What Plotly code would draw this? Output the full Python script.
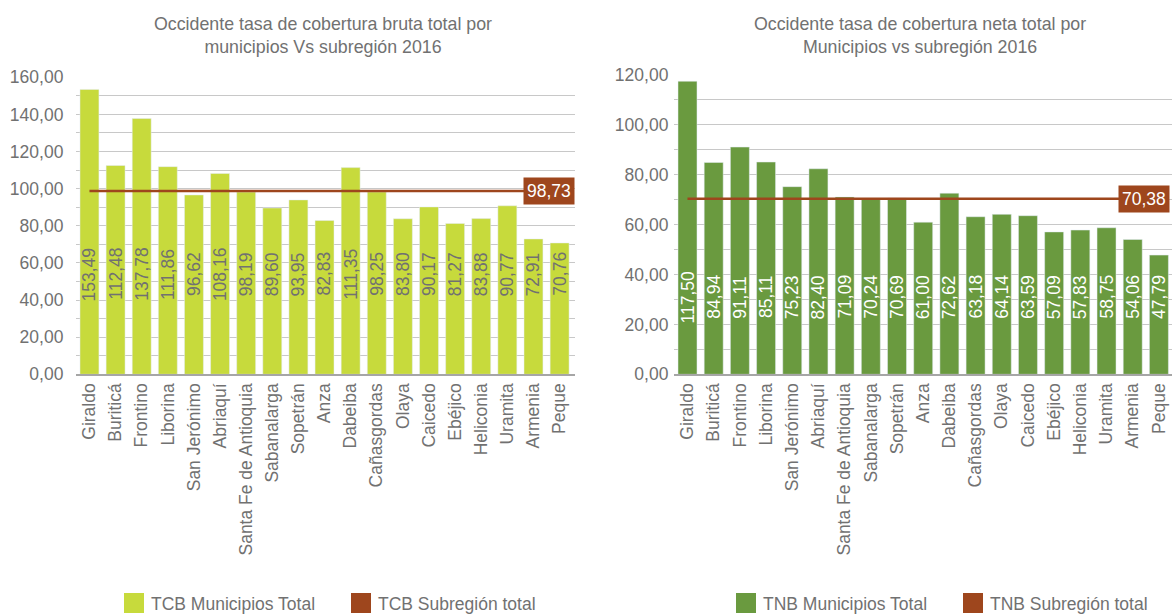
import plotly.graph_objects as go

# Municipios de la subregión Occidente
municipios = [
    "Giraldo", "Buriticá", "Frontino", "Liborina", "San Jerónimo", "Abriaquí",
    "Santa Fe de Antioquia", "Sabanalarga", "Sopetrán", "Anza", "Dabeiba",
    "Cañasgordas", "Olaya", "Caicedo", "Ebéjico", "Heliconia", "Uramita",
    "Armenia", "Peque",
]

# Tasa de cobertura bruta (TCB) 2016
tcb_municipios = [
    153.49, 112.48, 137.78, 111.86, 96.62, 108.16, 98.19, 89.60, 93.95, 82.83,
    111.35, 98.25, 83.80, 90.17, 81.27, 83.88, 90.77, 72.91, 70.76,
]
tcb_subregion = 98.73

# Tasa de cobertura neta (TNB) 2016
tnb_municipios = [
    117.50, 84.94, 91.11, 85.11, 75.23, 82.40, 71.09, 70.24, 70.69, 61.00,
    72.62, 63.18, 64.14, 63.59, 57.09, 57.83, 58.75, 54.06, 47.79,
]
tnb_subregion = 70.38

titulo_tcb = "Occidente tasa de cobertura bruta total por<br>municipios Vs subregión 2016"
titulo_tnb = "Occidente tasa de cobertura neta total por<br>Municipios vs subregión 2016"
leyenda_tcb = ["TCB Municipios Total", "TCB Subregión total"]
leyenda_tnb = ["TNB Municipios Total", "TNB Subregión total"]

W, H = 1173, 615
FONT = "Liberation Sans, Arial, sans-serif"
FS = 17.5
GRIS = "#717171"
GRID = "#C8C8C8"
VERDE_CLARO = "#C7DA3C"
VERDE = "#6A9A3F"
CAFE = "#9E461D"


def fx(px):
    return px / W


def fy(py):
    return 1 - py / H


def coma(v):
    return f"{v:.2f}".replace(".", ",")


fig = go.Figure()

paneles = [
    dict(x="x", y="y", valores=tcb_municipios, total=tcb_subregion, color=VERDE_CLARO,
         color_texto=GRIS, nivel_texto=54, rango=160, titulo=titulo_tcb,
         leyenda=leyenda_tcb, dom_x=(76.4, 574.6), dom_y=(77.3, 374.3),
         ley_x=(124, 351), xshift=-11),
    dict(x="x2", y="y2", valores=tnb_municipios, total=tnb_subregion, color=VERDE,
         color_texto="#FFFFFF", nivel_texto=31, rango=120, titulo=titulo_tnb,
         leyenda=leyenda_tnb, dom_x=(674.4, 1172.0), dom_y=(75.0, 374.3),
         ley_x=(736, 963), xshift=-15),
]

annotations = []
shapes = []

for i, p in enumerate(paneles):
    fig.add_trace(go.Bar(
        x=municipios, y=p["valores"], marker_color=p["color"],
        xaxis=p["x"], yaxis=p["y"], showlegend=False, hoverinfo="x+y",
    ))
    fig.add_trace(go.Scatter(
        x=municipios, y=[p["total"]] * len(municipios), mode="lines",
        line=dict(color=CAFE, width=2.5), xaxis=p["x"], yaxis=p["y"],
        showlegend=False, hoverinfo="y",
    ))

    # Etiquetas de valor dentro de las barras
    for m, v in zip(municipios, p["valores"]):
        annotations.append(dict(
            x=m, y=p["nivel_texto"], xref=p["x"], yref=p["y"], text=coma(v),
            textangle=-90, showarrow=False,
            font=dict(family=FONT, size=FS, color=p["color_texto"]),
        ))

    # Etiqueta del total subregional
    annotations.append(dict(
        x=municipios[-1], y=p["total"], xref=p["x"], yref=p["y"],
        text=coma(p["total"]), showarrow=False, xshift=p["xshift"],
        bgcolor=CAFE, borderpad=3,
        font=dict(family=FONT, size=FS, color="#FFFFFF"),
    ))

    # Título del panel
    cx = (p["dom_x"][0] + p["dom_x"][1]) / 2 - 3
    annotations.append(dict(
        x=fx(cx), y=fy(35.5), xref="paper", yref="paper", text=p["titulo"],
        showarrow=False, xanchor="center", yanchor="middle",
        font=dict(family=FONT, size=17.8, color=GRIS),
    ))

    # Leyenda
    for lx, nombre, col in zip(p["ley_x"], p["leyenda"], [p["color"], CAFE]):
        shapes.append(dict(
            type="rect", xref="paper", yref="paper",
            x0=fx(lx), x1=fx(lx + 20), y0=fy(613), y1=fy(593),
            fillcolor=col, line=dict(width=0),
        ))
        annotations.append(dict(
            x=fx(lx + 25), y=fy(604), xref="paper", yref="paper", text=nombre,
            showarrow=False, xanchor="left", yanchor="middle",
            font=dict(family=FONT, size=FS, color=GRIS),
        ))

    ax = "xaxis" if i == 0 else "xaxis2"
    ay = "yaxis" if i == 0 else "yaxis2"
    fig.update_layout(**{
        ax: dict(
            domain=[fx(p["dom_x"][0]), fx(p["dom_x"][1])], anchor=p["y"],
            showline=True, linecolor="#A6A6A6", linewidth=2, showgrid=False,
            tickangle=-90, ticks="", automargin=False,
            tickfont=dict(family=FONT, size=FS, color=GRIS),
        ),
        ay: dict(
            domain=[fy(p["dom_y"][1]), fy(p["dom_y"][0])], anchor=p["x"],
            range=[0, p["rango"]], dtick=20, tickformat=".2f",
            showgrid=True, gridcolor=GRID, gridwidth=1, zeroline=False,
            minor=dict(dtick=10, showgrid=True, gridcolor=GRID, gridwidth=1),
            ticks="", ticklabelstandoff=12 if i == 0 else 5, automargin=False,
            tickfont=dict(family=FONT, size=FS, color=GRIS),
        ),
    })

fig.update_layout(
    width=W, height=H, margin=dict(l=0, r=0, t=0, b=0),
    paper_bgcolor="#FFFFFF", plot_bgcolor="#FFFFFF",
    barmode="group", bargap=0.275, separators=", ",
    annotations=annotations, shapes=shapes, showlegend=False,
    font=dict(family=FONT, color=GRIS),
)

fig.write_html("out.html")
